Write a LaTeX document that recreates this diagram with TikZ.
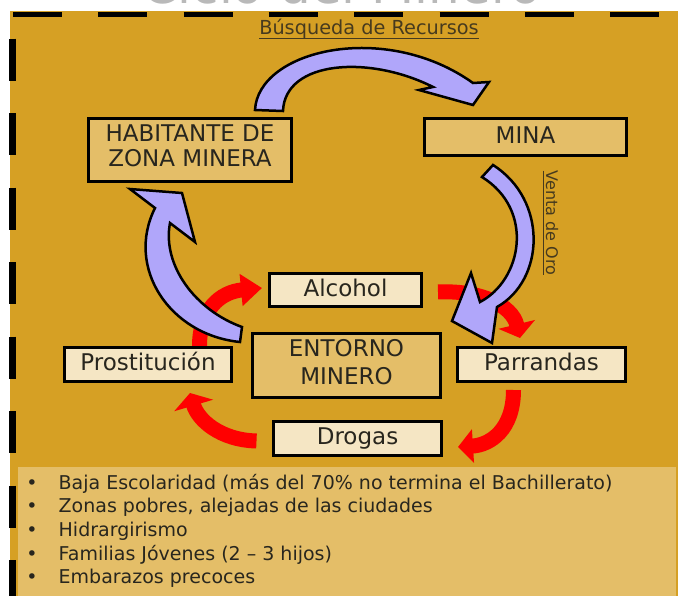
\documentclass[tikz,border=0pt]{standalone}
\usepackage{fontspec}
\setmainfont{DejaVu Sans}
\usetikzlibrary{arrows.meta}
\definecolor{gold}{RGB}{214,160,36}
\definecolor{boxgold}{RGB}{228,190,104}
\definecolor{cream}{RGB}{245,230,196}
\definecolor{lavender}{RGB}{176,166,250}
\definecolor{ink}{RGB}{40,38,30}
\definecolor{labelink}{RGB}{70,58,30}
\definecolor{titlegray}{RGB}{185,185,185}

\begin{document}
\begin{tikzpicture}[x=1pt,y=-1pt,
  box/.style={draw=black,line width=3pt,fill=boxgold,text=ink,inner sep=0pt,font=\fontsize{23}{25}\selectfont},
  onebox/.style={box,text height=17pt,text depth=5pt},
  lbox/.style={onebox,fill=cream},
  redarr/.style={red,line width=15pt},
  bluearr/.style={draw=black,line width=2.5pt,fill=lavender},
  lbl/.style={text=labelink,inner sep=0pt},
  dot/.style={anchor=base,inner sep=0pt,text=ink,font=\fontsize{19}{23}\selectfont},
  item/.style={anchor=base west,inner sep=0pt,text=ink,font=\fontsize{19}{23}\selectfont}
]
\useasboundingbox (0,0) rectangle (678,595);
\clip (0,0) rectangle (678,595);

% background and frame
\node[anchor=base,text=titlegray,inner sep=0pt,font=\fontsize{50}{50}\selectfont] (title) at (342,3) {Ciclo del Minero};
\fill[gold] (10,11) rectangle (678,600);
\draw[line width=5pt,dash pattern=on 49pt off 36.3pt] (13,14) -- (678,14);
\draw[line width=6.5pt,dash pattern=on 42pt off 32.5pt] (12.5,38.5) -- (12.5,600);

% list of features
\fill[boxgold] (18,467) rectangle (676,600);
\foreach \txt [count=\i] in {{Baja Escolaridad (más del 70\% no termina el Bachillerato)},
    {Zonas pobres, alejadas de las ciudades},{Hidrargirismo},
    {Familias Jóvenes (2 – 3 hijos)},{Embarazos precoces}}{
  \node[dot]  (d\i) at (32,{465.3+23.7*\i}) {•};
  \node[item] (t\i) at (58.5,{465.3+23.7*\i}) {\txt};
}

% arrow ends
\coordinate (r1a) at (199.5,346); \coordinate (r1b) at (262,288);
\coordinate (r2a) at (438,292);   \coordinate (r2b) at (520,338);
\coordinate (r3a) at (513.5,390); \coordinate (r3b) at (458,447);
\coordinate (r4a) at (256.5,441); \coordinate (r4b) at (190,393);

% red cycle
\draw[redarr,-{Triangle[width=31pt,length=21pt]}] (r1a) .. controls (199.5,310) and (220,292) .. (r1b);
\draw[redarr,-{Triangle[width=37pt,length=14pt]}] (r2a) .. controls (480,290) and (512,305) .. (r2b);
\draw[redarr,-{Triangle[width=33pt,length=15pt]}] (r3a) .. controls (513.5,430) and (490,445) .. (r3b);
\draw[redarr,-{Triangle[width=40pt,length=13pt]}] (r4a) .. controls (220,440) and (198,420) .. (r4b);

% blue arrows
\draw[bluearr] (255,110) .. controls (258,50) and (385,20) .. (473,83) -- (489,82) -- (473,105)
  -- (419,90) -- (433,87) .. controls (370,55) and (285,60) .. (283,111) -- cycle;
\draw[bluearr] (493,165) .. controls (548,200) and (545,280) .. (497,307) -- (492,343) -- (452,321)
  -- (471,273) -- (480,302) .. controls (522,280) and (535,210) .. (482,177) -- cycle;
\draw[bluearr] (240,342) .. controls (170,335) and (125,268) .. (155,208) -- (130,189) -- (182,193)
  -- (195,242) -- (170,223) .. controls (162,265) and (195,310) .. (242,327) -- cycle;

% labels
\node[lbl,anchor=base,font=\fontsize{19.3}{22}\selectfont] (busq) at (369,34) {Búsqueda de Recursos};
\draw[labelink,line width=1.3pt] (busq.south west) -- (busq.south east);
\node[lbl,anchor=base,rotate=-90,text depth=2.5pt,font=\fontsize{16}{18}\selectfont] (venta) at (546,223) {Venta de Oro};
\draw[labelink,line width=1.2pt] (venta.south west) -- (venta.south east);

% boxes
\node[box,align=center,minimum width=203pt,minimum height=63pt] (hab) at (190,150)
  {HABITANTE DE\\ZONA MINERA\rule[-8pt]{0pt}{0pt}};
\node[onebox,minimum width=202pt,minimum height=37pt] (mina) at (525.5,137) {MINA};
\node[box,align=center,minimum width=188pt,minimum height=64pt] (ent) at (346.5,365.5)
  {ENTORNO\\[3pt]MINERO\rule[-8pt]{0pt}{0pt}};
\node[lbox,minimum width=152pt,minimum height=33pt] (alc)  at (345.5,290)   {Alcohol};
\node[lbox,minimum width=167pt,minimum height=34pt] (pros) at (148,364.5)   {Prostitución};
\node[lbox,minimum width=168pt,minimum height=34pt] (parr) at (541.5,364.5) {Parrandas};
\node[lbox,minimum width=168pt,minimum height=34pt] (drog) at (357.5,438.5) {Drogas};
\end{tikzpicture}
\end{document}
